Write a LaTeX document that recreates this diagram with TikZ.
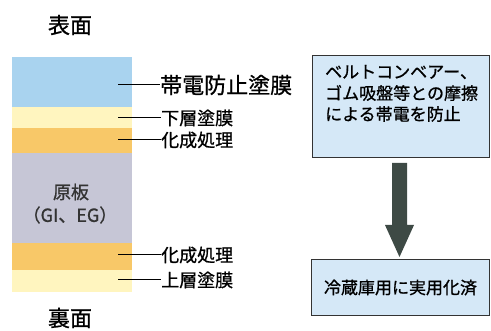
\documentclass[tikz,border=0pt]{standalone}
\usepackage{fontspec}
\usetikzlibrary{calc}
\newfontfamily\jp[FakeBold=0.9]{Noto Sans CJK JP}
\definecolor{layblue}{HTML}{A9D3EF}
\definecolor{layyel}{HTML}{FFF5BF}
\definecolor{layora}{HTML}{F8C868}
\definecolor{laygray}{HTML}{C6C6D6}
\definecolor{boxfill}{HTML}{D5E8F7}
\definecolor{arrowc}{HTML}{3E4A45}
\begin{document}
\begin{tikzpicture}[x=1pt,y=-1pt,
  lab/.style={anchor=west,inner sep=0pt,font=\jp\fontsize{18}{18}\selectfont},
  biglab/.style={anchor=west,inner sep=0pt,font=\jp\fontsize{22}{22}\selectfont},
  side/.style={inner sep=0pt,font=\jp\fontsize{22}{22}\selectfont},
  leader/.style={draw=black,line width=1pt},
  infobox/.style={draw=black!80,line width=1pt,fill=boxfill},
  boxtext/.style={anchor=west,inner sep=0pt,font=\jp\fontsize{17}{17}\selectfont}]
\useasboundingbox (0,0) rectangle (491,331);
% layers
\fill[layblue] (12,57) rectangle (132,107);
\fill[layyel] (12,107) rectangle (132,128);
\fill[layora] (12,128) rectangle (132,153);
\fill[laygray] (12,153) rectangle (132,243);
\fill[layora] (12,243) rectangle (132,270);
\fill[layyel] (12,270) rectangle (132,292);
% side labels
\node[side] (top) at (70,25) {表面};
\node[side] (bot) at (70,318) {裏面};
\node[inner sep=0pt,text=black!80,font=\jp\fontsize{18}{18}\selectfont] (base1) at (71,192) {原板};
\node[inner sep=0pt,text=black!80,font=\jp\fontsize{18}{18}\selectfont] (base2) at (70,215) {（GI、EG）};
% leader coordinates
\coordinate (c1) at (118,85);
\coordinate (c2) at (118,118);
\coordinate (c3) at (118,140);
\coordinate (c4) at (118,255);
\coordinate (c5) at (118,280);
\node[biglab] (l1) at (160,85) {帯電防止塗膜};
\node[lab] (l2) at (161,118) {下層塗膜};
\node[lab] (l3) at (161,140) {化成処理};
\node[lab] (l4) at (161,255) {化成処理};
\node[lab] (l5) at (161,280) {上層塗膜};
\draw[leader] (c1) -- (l1.west);
\draw[leader] (c2) -- (l2.west);
\draw[leader] (c3) -- (l3.west);
\draw[leader] (c4) -- (l4.west);
\draw[leader] (c5) -- (l5.west);
% right boxes
\node[infobox,minimum width=177pt,minimum height=102pt,anchor=north west] (box1) at (312,55) {};
\node[boxtext] (t1) at (325,72) {ベルトコンベアー、};
\node[boxtext] (t2) at (325,93) {ゴム吸盤等との摩擦};
\node[boxtext] (t3) at (325,114) {による帯電を防止};
\node[infobox,minimum width=178pt,minimum height=56pt,anchor=north west,font=\jp\fontsize{17}{17}\selectfont] (box2) at (311,259) {冷蔵庫用に実用化済};
% arrow
\coordinate (as) at (399.5,163);
\coordinate (ah) at (399.5,225);
\coordinate (at) at (399.5,257);
\fill[arrowc] ($(as)+(-7.5,0)$) -- ($(as)+(7.5,0)$) -- ($(ah)+(7.5,0)$) -- ($(ah)+(14.5,0)$) -- (at) -- ($(ah)+(-14.5,0)$) -- ($(ah)+(-7.5,0)$) -- cycle;
\end{tikzpicture}
\end{document}
